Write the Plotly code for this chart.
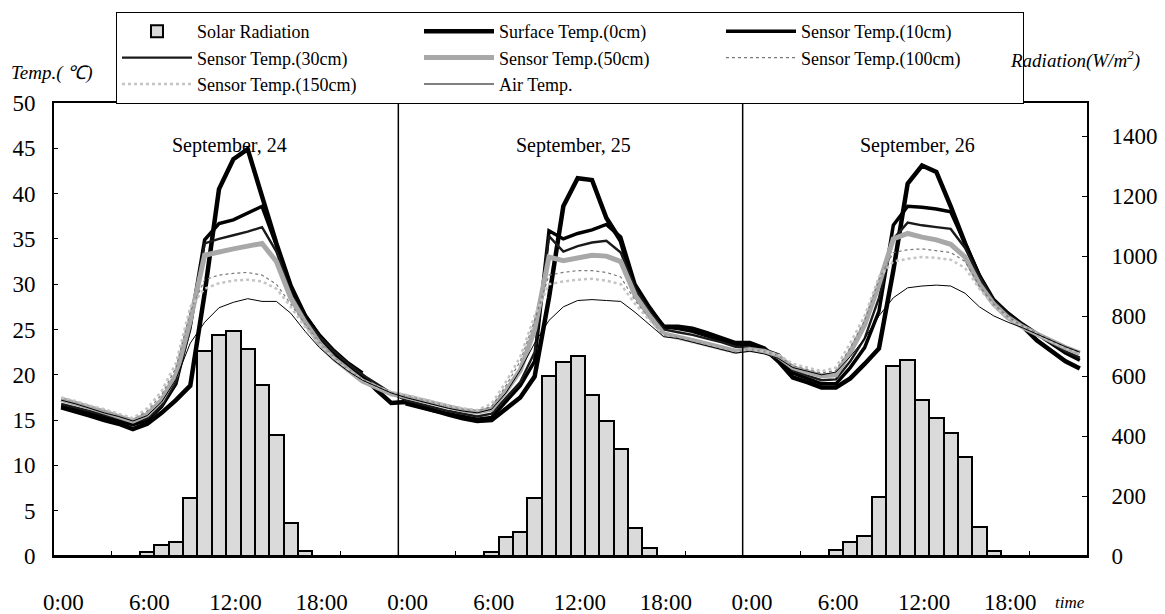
import plotly.graph_objects as go

# ---- data (hourly, 3 days: Sep 24-26) ----
hour_index = list(range(72))
x_center = [h + 0.5 for h in hour_index]  # category centres

rad_d1 = [0, 0, 0, 0, 0, 0, 14, 36, 47, 192, 683, 737, 750, 691, 571, 403, 111, 17, 0, 0, 0, 0, 0, 0]
rad_d2 = [0, 0, 0, 0, 0, 0, 14, 62, 81, 193, 601, 647, 666, 538, 449, 356, 95, 26, 0, 0, 0, 0, 0, 0]
rad_d3 = [0, 0, 0, 0, 0, 0, 20, 47, 66, 196, 635, 652, 520, 459, 410, 330, 97, 18, 0, 0, 0, 0, 0, 0]

surf_d1 = [16.4, 16.0, 15.5, 15.0, 14.6, 14.0, 14.6, 15.8, 17.2, 18.8, 29.0, 40.5, 43.8, 44.9, 39.5, 34.5, 29.8, 26.5, 24.2, 22.4, 21.0, 19.9, 18.3, 16.9]
surf_d2 = [17.0, 16.5, 16.0, 15.6, 15.2, 14.9, 15.0, 16.2, 17.5, 19.8, 28.5, 38.6, 41.7, 41.5, 37.3, 34.8, 29.3, 27.2, 25.3, 25.3, 25.1, 24.6, 24.1, 23.5]
surf_d3 = [23.5, 22.9, 21.5, 19.7, 19.2, 18.6, 18.6, 19.6, 21.2, 22.9, 31.5, 41.1, 43.1, 42.4, 38.6, 34.5, 30.8, 28.0, 26.7, 25.4, 23.8, 22.6, 21.5, 20.7]

t10_d1 = [16.6, 16.2, 15.8, 15.4, 15.0, 14.5, 15.0, 16.5, 19.0, 25.5, 34.9, 36.7, 37.1, 37.8, 38.6, 34.3, 29.6, 26.6, 24.4, 22.7, 21.3, 20.2, None, None]
t10_d2 = [16.8, 16.4, 16.0, 15.7, 15.4, 15.1, 15.3, 17.0, 18.8, 21.5, 35.9, 35.0, 35.6, 36.0, 36.6, 35.2, 30.0, 27.5, 25.3, 25.1, 24.8, 24.3, 23.8, 23.3]
t10_d3 = [23.3, 22.8, 22.2, 20.2, 19.6, 19.0, 19.0, 20.8, 23.0, 27.0, 36.5, 38.6, 38.5, 38.3, 38.0, 34.5, 31.0, 28.3, 26.8, 25.6, 24.5, 23.4, 22.4, 21.6]

t30_d1 = [16.8, 16.4, 16.0, 15.6, 15.2, 14.8, 15.2, 16.6, 19.2, 25.0, 34.5, 35.0, 35.4, 35.8, 36.3, 33.6, 29.0, 26.2, 24.2, 22.6, 21.2, 20.0, 19.0, 18.0]
t30_d2 = [17.2, 16.8, 16.4, 16.0, 15.7, 15.4, 15.7, 17.5, 19.2, 22.5, 35.3, 33.6, 34.2, 34.6, 34.8, 33.5, 29.5, 27.0, 25.0, 24.7, 24.4, 24.0, 23.6, 23.1]
t30_d3 = [23.0, 22.7, 22.2, 20.5, 19.9, 19.4, 19.5, 21.5, 24.0, 28.5, 35.0, 36.8, 36.5, 36.3, 36.1, 34.0, 30.8, 28.2, 26.7, 25.5, 24.5, 23.5, 22.6, 21.9]

t50_d1 = [17.3, 16.9, 16.4, 15.9, 15.4, 14.9, 15.6, 17.2, 20.0, 26.0, 33.2, 33.6, 33.9, 34.2, 34.5, 32.5, 28.5, 25.8, 23.5, 21.8, 20.5, 19.3, 18.6, 17.9]
t50_d2 = [17.6, 17.2, 16.8, 16.4, 16.1, 15.9, 16.2, 18.2, 20.5, 25.0, 33.0, 32.6, 32.9, 33.2, 33.1, 32.5, 28.8, 26.5, 24.5, 24.2, 23.8, 23.4, 23.0, 22.6]
t50_d3 = [22.8, 22.6, 22.0, 20.8, 20.3, 19.9, 20.0, 22.5, 25.5, 30.0, 35.0, 35.6, 35.2, 34.9, 34.4, 33.0, 30.0, 27.8, 26.3, 25.3, 24.5, 23.7, 23.0, 22.4]

t100_d1 = [17.4, 17.0, 16.5, 16.1, 15.6, 15.1, 16.0, 17.8, 20.8, 27.0, 30.5, 31.0, 31.2, 31.3, 31.0, 30.0, 27.8, 25.6, 23.6, 22.0, 20.6, 19.5, 18.8, 18.1]
t100_d2 = [17.7, 17.3, 16.9, 16.5, 16.2, 16.0, 16.5, 18.8, 21.5, 26.0, 31.0, 31.3, 31.5, 31.5, 31.3, 30.8, 28.2, 26.2, 24.4, 24.1, 23.7, 23.3, 22.9, 22.5]
t100_d3 = [22.8, 22.6, 22.1, 21.0, 20.6, 20.2, 20.5, 23.0, 26.0, 30.5, 33.5, 33.8, 33.9, 33.7, 33.5, 32.5, 29.8, 27.8, 26.4, 25.4, 24.6, 23.8, 23.1, 22.5]

t150_d1 = [17.5, 17.1, 16.6, 16.2, 15.7, 15.2, 16.3, 18.2, 21.3, 27.5, 29.5, 30.1, 30.4, 30.5, 30.3, 29.5, 27.5, 25.3, 23.4, 21.8, 20.5, 19.4, 18.7, 18.1]
t150_d2 = [17.8, 17.4, 17.0, 16.6, 16.3, 16.1, 16.8, 19.2, 22.0, 26.5, 30.0, 30.3, 30.5, 30.6, 30.4, 30.0, 27.8, 26.0, 24.3, 24.0, 23.6, 23.2, 22.8, 22.4]
t150_d3 = [22.8, 22.6, 22.2, 21.2, 20.8, 20.4, 20.8, 23.5, 26.5, 30.8, 32.5, 32.8, 33.0, 32.9, 32.7, 31.8, 29.5, 27.6, 26.3, 25.3, 24.5, 23.7, 23.0, 22.4]

air_d1 = [17.2, 16.8, 16.3, 15.8, 15.4, 14.9, 15.5, 17.0, 19.5, 23.5, 25.8, 27.4, 28.0, 28.4, 28.1, 28.1, 26.8, 24.8, 23.0, 21.6, 20.4, 19.4, 18.7, 18.0]
air_d2 = [17.5, 17.1, 16.7, 16.3, 16.0, 15.8, 16.2, 18.0, 20.5, 23.5, 26.0, 27.5, 28.2, 28.3, 28.2, 28.1, 26.9, 25.6, 24.2, 24.0, 23.6, 23.2, 22.8, 22.4]
air_d3 = [22.6, 22.3, 21.8, 20.8, 20.4, 20.0, 20.3, 22.0, 24.0, 26.5, 28.5, 29.6, 29.8, 29.9, 29.8, 29.0, 27.5, 26.5, 25.8, 25.2, 24.5, 23.8, 23.1, 22.5]

day_labels = ["September, 24", "September, 25", "September, 26"]
tick_hours = [0, 6, 12, 18, 24, 30, 36, 42, 48, 54, 60, 66]
tick_text = ["0:00", "6:00", "12:00", "18:00"] * 3
minor_ticks = [4, 20, 28, 44, 52, 68]
day_breaks = [24, 48]
rad_ticks = [0, 200, 400, 600, 800, 1000, 1200, 1400]

radiation = rad_d1 + rad_d2 + rad_d3
series = [
    ("Surface Temp.(0cm)", surf_d1 + surf_d2 + surf_d3, dict(color="black", width=4.5)),
    ("Sensor Temp.(10cm)", t10_d1 + t10_d2 + t10_d3, dict(color="black", width=3.5)),
    ("Sensor Temp.(30cm)", t30_d1 + t30_d2 + t30_d3, dict(color="#1a1a1a", width=2.4)),
    ("Sensor Temp.(50cm)", t50_d1 + t50_d2 + t50_d3, dict(color="#a8a8a8", width=5)),
    ("Sensor Temp.(100cm)", t100_d1 + t100_d2 + t100_d3, dict(color="#7a7a7a", width=1.2, dash="dot")),
    ("Sensor Temp.(150cm)", t150_d1 + t150_d2 + t150_d3, dict(color="#c4c4c4", width=2.5, dash="dot")),
    ("Air Temp.", air_d1 + air_d2 + air_d3, dict(color="black", width=1)),
]

FONT = "Liberation Serif"
W, H = 1165, 614
L, R, T, B = 54, 78, 103, 58
PW, PH = W - L - R, H - T - B


def px_to_paper_x(px):
    return (px - L) / PW


def px_to_paper_y(py):
    return (H - B - py) / PH


fig = go.Figure()
fig.add_trace(go.Bar(
    x=x_center, y=radiation, name="Solar Radiation", width=1.0,
    marker=dict(color="#dadada", line=dict(color="black", width=2)),
    yaxis="y",
))
for name, vals, line in series:
    fig.add_trace(go.Scatter(
        x=x_center, y=vals, name=name, mode="lines", line=line,
        connectgaps=False, yaxis="y2",
    ))

for xb in day_breaks:
    fig.add_shape(type="line", x0=xb, x1=xb, y0=0, y1=1, xref="x", yref="paper",
                  line=dict(color="black", width=1.5))

for d, lab in enumerate(day_labels):
    fig.add_annotation(x=d * 24 + 12.2, y=px_to_paper_y(132), xref="x", yref="paper", text=lab,
                       showarrow=False, font=dict(family=FONT, size=20, color="black"))

fig.add_annotation(x=px_to_paper_x(9), y=px_to_paper_y(73), xref="paper", yref="paper",
                   text="<i>Temp.( ℃)</i>", showarrow=False, xanchor="left", yanchor="middle",
                   font=dict(family=FONT, size=19, color="black"))
fig.add_annotation(x=px_to_paper_x(1008), y=px_to_paper_y(60), xref="paper", yref="paper",
                   text="<i>Radiation(W/m<sup>2</sup>)</i>", showarrow=False,
                   xanchor="left", yanchor="middle",
                   font=dict(family=FONT, size=19, color="black"))
fig.add_annotation(x=1.0, y=px_to_paper_y(602), xref="paper", yref="paper",
                   text="<i>time</i>", showarrow=False, xanchor="right", yanchor="middle",
                   font=dict(family=FONT, size=17, color="black"))

fig.update_layout(
    width=W, height=H,
    margin=dict(l=L, r=R, t=T, b=B, autoexpand=False),
    paper_bgcolor="white", plot_bgcolor="white",
    font=dict(family=FONT, size=22, color="black"),
    bargap=0,
    showlegend=True,
    legend=dict(
        orientation="h", xref="container", yref="container",
        x=116 / W, y=1 - 12 / H, xanchor="left", yanchor="top",
        bordercolor="black", borderwidth=1, bgcolor="white",
        font=dict(family=FONT, size=18, color="black"),
        itemwidth=70, entrywidth=217, traceorder="normal",
        tracegroupgap=0,
    ),
    xaxis=dict(
        range=[0, 72], showgrid=False, zeroline=False,
        showline=True, linecolor="black", linewidth=2, mirror=True,
        tickmode="array", tickvals=[h + 0.65 for h in tick_hours], ticktext=tick_text,
        ticks="", ticklabelstandoff=24,
        tickfont=dict(family=FONT, size=23),
        minor=dict(tickmode="array", tickvals=minor_ticks, ticks="inside", ticklen=5,
                   tickcolor="black", tickwidth=1),
    ),
    yaxis=dict(
        side="right", range=[0, 1510], tickmode="array", tickvals=rad_ticks,
        showgrid=False, zeroline=False, showline=True, linecolor="black", linewidth=2,
        ticks="inside", ticklen=5, tickcolor="black", ticklabelstandoff=18,
        tickfont=dict(family=FONT, size=23),
    ),
    yaxis2=dict(
        side="left", overlaying="y", anchor="x", range=[0, 50], dtick=5, tick0=0,
        showgrid=False, zeroline=False, showline=True, linecolor="black", linewidth=2,
        ticks="inside", ticklen=4, tickcolor="black", ticklabelstandoff=12,
        tickfont=dict(family=FONT, size=23),
    ),
)

fig.write_html("out.html")
